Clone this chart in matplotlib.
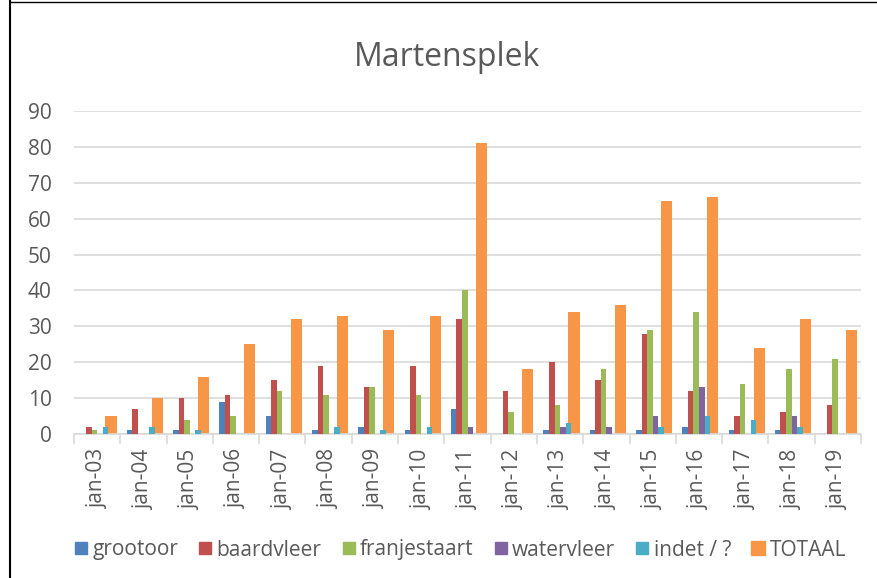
import numpy as np
import matplotlib.pyplot as plt
from matplotlib.lines import Line2D

plt.rcParams['font.family'] = ['Open Sans', 'DejaVu Sans']

# data
years = ['jan-03', 'jan-04', 'jan-05', 'jan-06', 'jan-07', 'jan-08', 'jan-09', 'jan-10', 'jan-11',
         'jan-12', 'jan-13', 'jan-14', 'jan-15', 'jan-16', 'jan-17', 'jan-18', 'jan-19']
grootoor = [0, 1, 1, 9, 5, 1, 2, 1, 7, 0, 1, 1, 1, 2, 1, 1, 0]
baardvleer = [2, 7, 10, 11, 15, 19, 13, 19, 32, 12, 20, 15, 28, 12, 5, 6, 8]
franjestaart = [1, 0, 4, 5, 12, 11, 13, 11, 40, 6, 8, 18, 29, 34, 14, 18, 21]
watervleer = [0, 0, 0, 0, 0, 0, 0, 0, 2, 0, 2, 2, 5, 13, 0, 5, 0]
indet = [2, 2, 1, 0, 0, 2, 1, 2, 0, 0, 3, 0, 2, 5, 4, 2, 0]
totaal = [5, 10, 16, 25, 32, 33, 29, 33, 81, 18, 34, 36, 65, 66, 24, 32, 29]

series = [('grootoor', grootoor, '#4F81BD'),
          ('baardvleer', baardvleer, '#C0504D'),
          ('franjestaart', franjestaart, '#9BBB59'),
          ('watervleer', watervleer, '#8064A2'),
          ('indet / ?', indet, '#4BACC6')]
tot_color = '#F79646'
text_color = '#595959'

fig = plt.figure(figsize=(8.77, 5.78), dpi=100)
ax = fig.add_axes([74 / 877, 1 - 434 / 578, 787 / 877, 323 / 578])

x = np.arange(len(years))
w = 0.12
offsets = [-0.30, -0.18, -0.06, 0.06, 0.18]
for (name, vals, col), off in zip(series, offsets):
    ax.bar(x + off, vals, width=w, color=col, label=name, zorder=3)
ax.bar(x + 0.30, totaal, width=0.24, color=tot_color, label='TOTAAL', zorder=2)

ax.set_xlim(-0.5, len(years) - 0.5)
ax.set_ylim(0, 90)
ax.set_yticks(range(0, 91, 10))
ax.yaxis.grid(True, color='#D9D9D9', linewidth=1.2, zorder=0)
ax.set_axisbelow(True)

ax.set_xticks(x)
ax.set_xticklabels(years, rotation=90, fontsize=15, color=text_color)
ax.set_xticks(np.arange(-0.5, len(years), 1), minor=True)
ax.tick_params(axis='x', which='major', length=0, pad=11)
ax.tick_params(axis='x', which='minor', length=7, color='#D9D9D9', width=1.2)
ax.tick_params(axis='y', length=0, pad=16, labelsize=15, labelcolor=text_color)

for s in ['top', 'right', 'left']:
    ax.spines[s].set_visible(False)
ax.spines['bottom'].set_color('#D9D9D9')
ax.spines['bottom'].set_linewidth(1.2)

fig.text(0.51, 1 - 57 / 578, 'Martensplek', ha='center', va='center', fontsize=23, color=text_color)

handles = [Line2D([], [], marker='s', linestyle='', markersize=8, color=c) for _, _, c in series]
handles.append(Line2D([], [], marker='s', linestyle='', markersize=10, color=tot_color))
labels = [n for n, _, _ in series] + ['TOTAAL']
fig.legend(handles, labels, loc='center', bbox_to_anchor=(0.525, 1 - 550 / 578), ncol=6,
           frameon=False, fontsize=15, handlelength=0.6, handletextpad=0.25,
           columnspacing=1.0, labelcolor=text_color)

# chart frame
fig.add_artist(Line2D([10 / 877, 10 / 877], [0, 1], color='black', linewidth=1.5))
fig.add_artist(Line2D([10 / 877, 1], [1 - 2 / 578, 1 - 2 / 578], color='black', linewidth=1.0))

fig.savefig('out.png', dpi=100)
